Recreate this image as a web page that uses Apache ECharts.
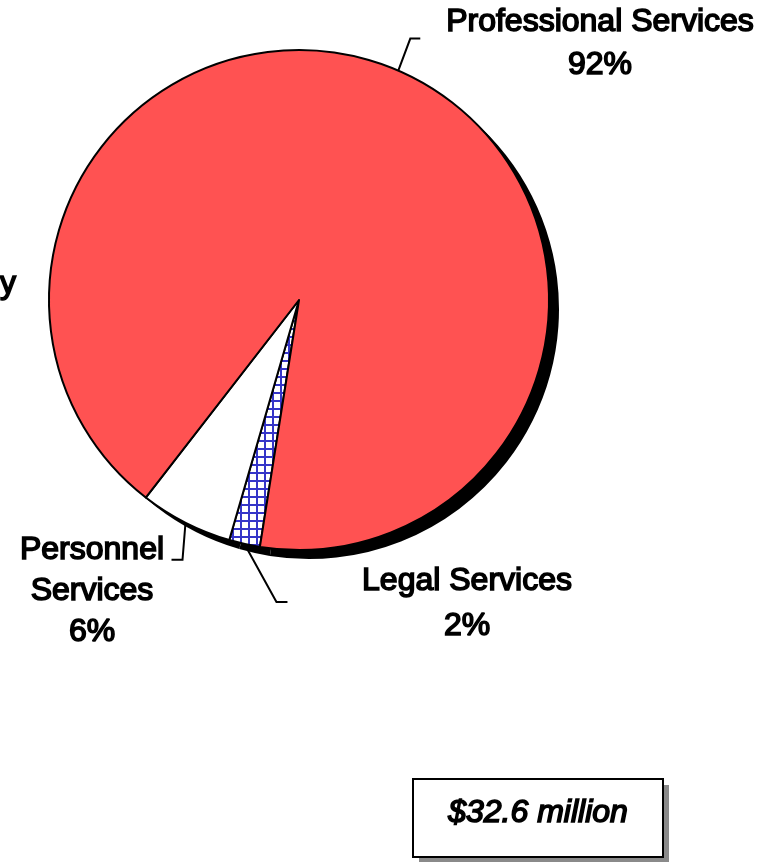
<!DOCTYPE html>
<html>
<head>
<meta charset="utf-8">
<script src="https://cdn.jsdelivr.net/npm/echarts@6/dist/echarts.min.js"></script>
<style>
  html, body { margin: 0; padding: 0; background: #fff; }
  #chart { width: 768px; height: 862px; }
</style>
</head>
<body>
<div id="chart"></div>
<script>
// slices, clockwise from the legal wedge
const categories = ['Legal Services', 'Personnel Services', 'Professional Services']
const labelNames = ['Legal Services', 'Personnel\nServices', 'Professional Services']
const shares = [2, 6, 92]
const totalNote = '$32.6 million'

const FONT = "'Liberation Sans', Arial, sans-serif"

// blue crosshatch for the legal slice
function hatch() {
  const c = document.createElement('canvas')
  c.width = 8
  c.height = 8
  const ctx = c.getContext('2d')
  ctx.fillStyle = '#fff'
  ctx.fillRect(0, 0, 8, 8)
  ctx.fillStyle = '#3535c8'
  ctx.fillRect(0, 0, 8, 2)
  ctx.fillRect(0, 0, 2, 8)
  return c
}

const sliceStyles = [
  { color: { image: hatch(), repeat: 'repeat' } },
  { color: '#ffffff' },
  { color: '#ff5252' }
]

// where each label sits and how its leader bends
const labelSpots = [
  { x: 467, y: 604, lh: 45, bend: [32, 58], tail: 11 },
  { x: 92, y: 591, lh: 41, bend: [-3, 37], tail: -11 },
  { x: 600, y: 44, lh: 43, bend: [12, -32], tail: 10 }
]

const center = [299, 300]
const radius = 250
const startAngle = 261

function buildOption() {
  const data = categories.map((name, i) => ({
    name,
    value: shares[i],
    itemStyle: sliceStyles[i],
    label: { lineHeight: labelSpots[i].lh }
  }))

  return {
    animation: false,
    backgroundColor: '#fff',
    series: [
      {
        // drop shadow
        type: 'pie',
        silent: true,
        center: [center[0] + 10, center[1] + 9],
        radius,
        startAngle,
        label: { show: false },
        labelLine: { show: false },
        itemStyle: { color: '#000', borderWidth: 0 },
        emphasis: { disabled: true },
        data: shares.map((v, i) => ({ name: categories[i], value: v }))
      },
      {
        type: 'pie',
        center,
        radius,
        startAngle,
        avoidLabelOverlap: false,
        emphasis: { disabled: true },
        itemStyle: { borderColor: '#000', borderWidth: 2 },
        label: {
          show: true,
          position: 'outside',
          formatter: (p) => `${labelNames[p.dataIndex]}\n${p.value}%`,
          fontFamily: FONT,
          fontSize: 32,
          color: '#000',
          textBorderColor: '#000',
          textBorderWidth: 1.6,
          align: 'center'
        },
        labelLine: {
          show: true,
          length: 30,
          length2: 10,
          smooth: false,
          lineStyle: { color: '#000', width: 2 }
        },
        labelLayout: (params) => {
          const s = labelSpots[params.dataIndex]
          let p0 = params.labelLinePoints && params.labelLinePoints[0]
          if (!p0) {
            // fallback: edge point at slice mid angle
            let acc = 0
            for (let i = 0; i < params.dataIndex; i++) acc += shares[i]
            const total = shares.reduce((a, b) => a + b, 0)
            const mid = (startAngle - (acc + shares[params.dataIndex] / 2) / total * 360) * Math.PI / 180
            p0 = [center[0] + radius * Math.cos(mid), center[1] - radius * Math.sin(mid)]
          }
          const p1 = [p0[0] + s.bend[0], p0[1] + s.bend[1]]
          const p2 = [p1[0] + s.tail, p1[1]]
          return {
            x: s.x,
            y: s.y,
            align: 'center',
            verticalAlign: 'middle',
            labelLinePoints: [p0, p1, p2]
          }
        },
        data
      }
    ],
    graphic: [
      {
        // tail of a clipped label at the left edge
        type: 'text',
        x: 0,
        y: 284,
        style: {
          text: 'y',
          font: `32px ${FONT}`,
          fill: '#000',
          stroke: '#000',
          lineWidth: 1.6,
          verticalAlign: 'middle'
        }
      },
      {
        type: 'group',
        left: 412,
        top: 778,
        children: [
          { type: 'rect', shape: { x: 6, y: 6, width: 250, height: 78 }, style: { fill: '#8a8a8a' } },
          { type: 'rect', shape: { x: 0, y: 0, width: 250, height: 78 }, style: { fill: '#fff', stroke: '#000', lineWidth: 2 } },
          {
            type: 'text',
            x: 125,
            y: 34,
            style: {
              text: totalNote,
              font: `italic 32px ${FONT}`,
              fill: '#000',
              stroke: '#000',
              lineWidth: 1.6,
              align: 'center',
              verticalAlign: 'middle'
            }
          }
        ]
      }
    ]
  }
}

const chart = echarts.init(document.getElementById('chart'))
chart.setOption(buildOption())
</script>
</body>
</html>
